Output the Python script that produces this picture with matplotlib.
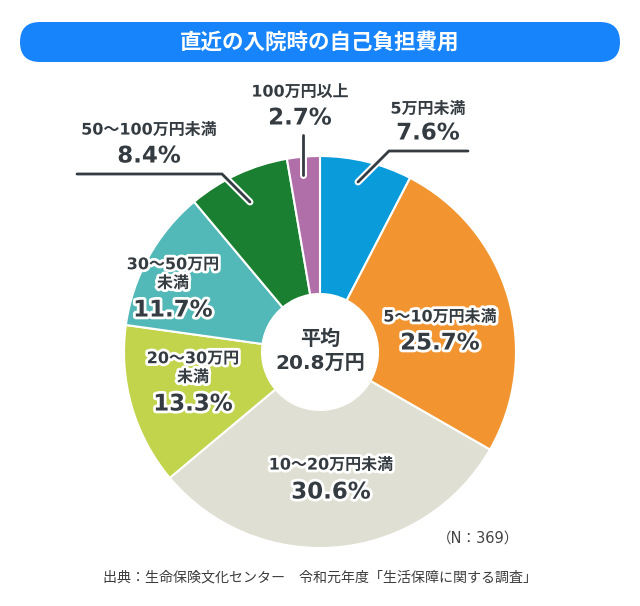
import matplotlib
matplotlib.use("Agg")
import matplotlib.pyplot as plt
import matplotlib.patheffects as pe
from matplotlib.patches import FancyBboxPatch, Circle

plt.rcParams["font.family"] = ["Noto Sans CJK JP", "DejaVu Sans"]
WIDE = ["DejaVu Sans", "Noto Sans CJK JP"]  # wider digits, kanji from Noto

TITLE = "直近の入院時の自己負担費用"
labels = ["5万円未満", "5〜10万円未満", "10〜20万円未満", "20〜30万円\n未満",
          "30〜50万円\n未満", "50〜100万円未満", "100万円以上"]
values = [7.6, 25.7, 30.6, 13.3, 11.7, 8.4, 2.7]
colors = ["#0a9bdb", "#f29531", "#dfdfd3", "#c1d44c", "#52b9b8", "#1a7f30", "#b06fa9"]
avg_label = "平均\n20.8万円"
n_label = "（N：369）"
source = "出典：生命保険文化センター　令和元年度「生活保障に関する調査」"

W, H = 640, 606
DARK = "#343b41"
outline = [pe.Stroke(linewidth=4, foreground="white"), pe.Normal()]


def Y(y):
    return H - y


fig = plt.figure(figsize=(W / 100, H / 100), dpi=100)
ax = fig.add_axes([0, 0, 1, 1])

# title bar
ax.add_patch(FancyBboxPatch((20, Y(62)), 600, 40, boxstyle="round,pad=0,rounding_size=20",
                            fc="#1784fc", ec="none"))
ax.text(320, Y(42), TITLE, ha="center", va="center", color="white",
        fontsize=15.5, fontweight="bold")

# donut
cx, cy, R, r_in = 320, 352, 196, 58
ax.pie(values, colors=colors, startangle=90, counterclock=False,
       center=(cx, Y(cy)), radius=R,
       wedgeprops=dict(width=R - r_in, edgecolor="white", linewidth=1.5))
ax.add_patch(Circle((cx, Y(cy)), r_in, fc="white", ec="none"))

# leader lines
leaders = [
    [(468, 151), (389, 151), (358, 182)],
    [(303, 135), (303, 175)],
    [(77, 174), (222, 174), (250, 202)],
]
for pts in leaders:
    xs = [p[0] for p in pts]
    ys = [Y(p[1]) for p in pts]
    ax.plot(xs, ys, color=DARK, lw=2, solid_capstyle="round", solid_joinstyle="miter",
            path_effects=[pe.Stroke(linewidth=5, foreground="white"), pe.Normal()])

# labels: (x, y of category text, y of percent text)
label_pos = [
    (428, 109, 133),
    (440, 317, 343),
    (331, 465, 492),
    (193, 368, 404),
    (173, 274, 310),
    (149, 130, 156),
    (300, 92, 118),
]
for lab, v, (x, yl, yp) in zip(labels, values, label_pos):
    ax.text(x, Y(yl), lab, ha="center", va="center", color=DARK, fontsize=11.5,
            fontweight="bold", family=WIDE, linespacing=1.3, path_effects=outline)
    ax.text(x, Y(yp), f"{v:.1f}%", ha="center", va="center", color=DARK, fontsize=16.5,
            fontweight="bold", family=WIDE, path_effects=outline)

ax.text(cx, Y(351), avg_label, ha="center", va="center", color=DARK, fontsize=14.5,
        fontweight="bold", family=WIDE, linespacing=1.35)
ax.text(478, Y(538), n_label, ha="center", va="center", color="#444444", fontsize=10.5,
        family=WIDE)
ax.text(320, Y(577), source, ha="center", va="center", color="#3d3d3d", fontsize=10.1)

ax.set_xlim(0, W)
ax.set_ylim(0, H)
ax.set_aspect("equal")
ax.axis("off")
fig.savefig("out.png", dpi=100, facecolor="white")
